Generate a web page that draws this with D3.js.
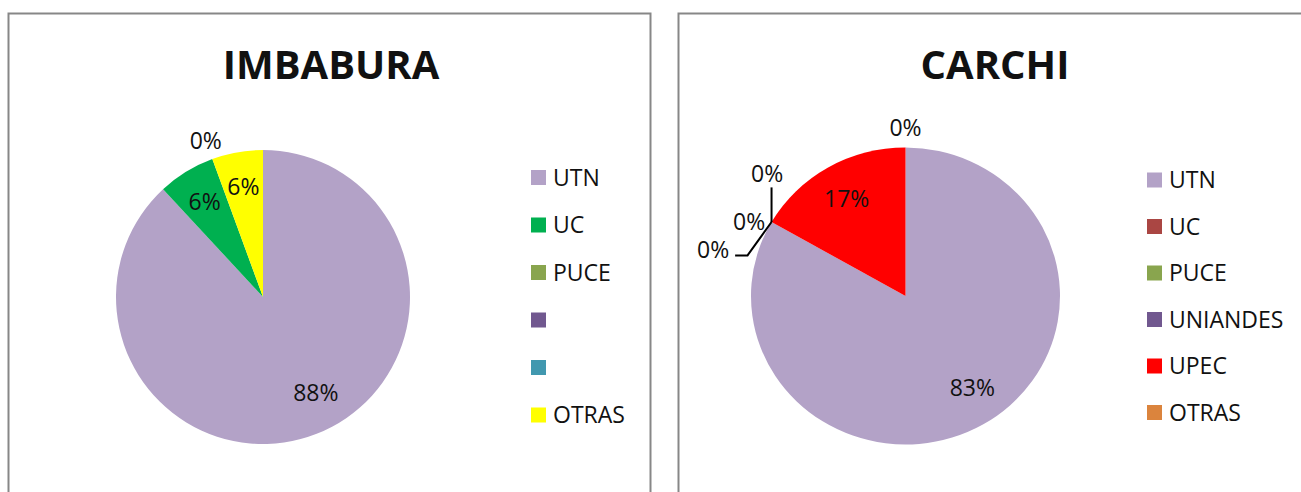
<!DOCTYPE html>
<html>
<head>
<meta charset="utf-8">
<script src="https://cdn.jsdelivr.net/npm/d3@7"></script>
<style>
  body { margin: 0; background: #fff; }
  text { font-family: 'Open Sans', sans-serif; fill: #111; }
</style>
</head>
<body>
<svg id="chart" width="1301" height="492"></svg>
<script>
// data (percent of respondents)
const imbaburaCategories = ['UTN', 'UC', 'PUCE', '', '', 'OTRAS'];
const imbaburaValues = [88.1, 6.3, 0, null, null, 5.6];
const imbaburaColors = ['#B3A2C7', '#00B050', '#89A54E', '#71588F', '#4198AF', '#FFFF00'];

const carchiCategories = ['UTN', 'UC', 'PUCE', 'UNIANDES', 'UPEC', 'OTRAS'];
const carchiValues = [83.3, 0, 0, 0, 16.7, 0];
const carchiColors = ['#B3A2C7', '#AA4643', '#89A54E', '#71588F', '#FF0000', '#DB843D'];

const svg = d3.select('#chart');
const fmt = d3.format('.0%');

// panel frames
svg.append('rect').attr('x', 8.5).attr('y', 13.5).attr('width', 642).attr('height', 500)
  .attr('fill', 'none').attr('stroke', '#878787').attr('stroke-width', 2);
svg.append('rect').attr('x', 678.5).attr('y', 13.5).attr('width', 640).attr('height', 500)
  .attr('fill', 'none').attr('stroke', '#878787').attr('stroke-width', 2);

function drawPie(opts) {
  const { title, cats, vals, colors, cx, cy, rx, ry, titleX, legendX, legendY, legendStep, nudges, leaders } = opts;
  const g = svg.append('g');
  const sx = rx / ry;

  g.append('text')
    .attr('x', titleX).attr('y', 79)
    .attr('text-anchor', 'middle')
    .style('font-size', '40px').style('font-weight', 'bold')
    .text(title);

  const items = cats.map((c, i) => ({ name: c, value: vals[i], color: colors[i], i }));
  const total = d3.sum(items, d => d.value || 0);
  const arcs = d3.pie().sort(null).value(d => d.value || 0)(items);
  const arc = d3.arc().innerRadius(0).outerRadius(ry);

  g.append('g')
    .attr('transform', `translate(${cx},${cy}) scale(${sx},1)`)
    .selectAll('path')
    .data(arcs.filter(d => d.data.value > 0))
    .join('path')
      .attr('d', arc)
      .attr('fill', d => d.data.color);

  const pos = (d, f) => {
    const c = d3.arc().innerRadius(ry * f).outerRadius(ry * f).centroid(d);
    return [cx + c[0] * sx, cy + c[1]];
  };

  const labelled = arcs.filter(d => d.data.value != null);
  labelled.forEach(d => {
    const inside = d.data.value > 0;
    let [x, y] = pos(d, inside ? 0.76 : 1.13);
    const n = nudges[d.data.i] || [0, 0];
    x += n[0]; y += n[1];
    const lead = leaders[d.data.i];
    if (lead) {
      const e = pos(d, 1);
      let pts;
      if (lead == 'up') {
        pts = [e, [e[0], y + 14]];
      } else {
        pts = [e, [e[0] - 24, y + 6], [x + 22, y + 6]];
      }
      g.append('path')
        .attr('d', d3.line()(pts))
        .attr('fill', 'none').attr('stroke', '#000').attr('stroke-width', 2);
    }
    g.append('text')
      .attr('x', x).attr('y', y).attr('dy', '0.36em')
      .attr('text-anchor', 'middle')
      .style('font-size', '23px')
      .text(fmt(d.data.value / total));
  });

  const leg = g.append('g').selectAll('g')
    .data(items)
    .join('g')
      .attr('transform', d => `translate(${legendX},${legendY + d.i * legendStep})`);
  leg.append('rect')
    .attr('x', 0).attr('y', -7.5).attr('width', 15).attr('height', 15)
    .attr('fill', d => d.color);
  leg.append('text')
    .attr('x', 22).attr('y', 0).attr('dy', '0.36em')
    .style('font-size', '23px')
    .text(d => d.name);
}

drawPie({
  title: 'IMBABURA', cats: imbaburaCategories, vals: imbaburaValues, colors: imbaburaColors,
  cx: 263, cy: 297, rx: 147, ry: 147, titleX: 331,
  legendX: 531, legendY: 177.5, legendStep: 47.5,
  nudges: { 0: [12, -8] }, leaders: {}
});

drawPie({
  title: 'CARCHI', cats: carchiCategories, vals: carchiValues, colors: carchiColors,
  cx: 905.5, cy: 296, rx: 154.5, ry: 148.5, titleX: 995,
  legendX: 1147, legendY: 180, legendStep: 46.5,
  nudges: { 0: [8, -6], 1: [-41, 37], 2: [-5, 9], 3: [13, -39] },
  leaders: { 1: 'down', 3: 'up' }
});
</script>
</body>
</html>
